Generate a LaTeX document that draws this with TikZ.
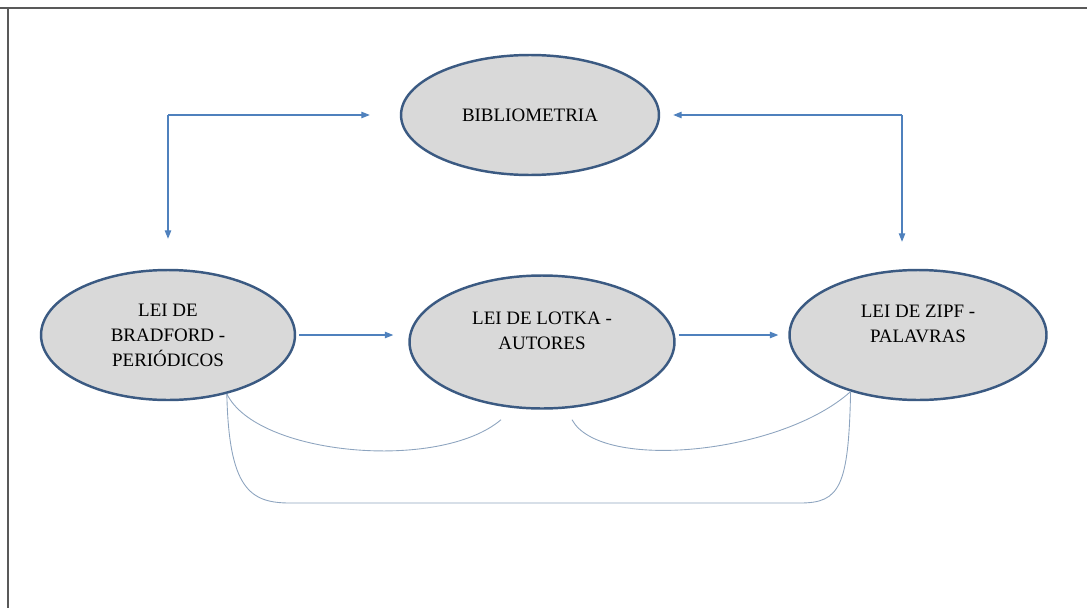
\documentclass[tikz,border=0pt]{standalone}
\usepackage{fontspec}
\setmainfont{Liberation Serif}
\usetikzlibrary{shapes.geometric, arrows.meta, positioning, calc}
\definecolor{rim}{HTML}{3B5A82}
\definecolor{shade}{HTML}{D9D9D9}
\definecolor{flow}{HTML}{4F81BD}
\definecolor{linkgray}{HTML}{8DA4BF}
\definecolor{framegray}{HTML}{595959}

\begin{document}
\begin{tikzpicture}[
        x=0.02cm, y=-0.02cm,
        lei/.style={ellipse, draw=rim, line width=1.4pt, fill=shade, align=center, inner sep=2pt, font=\fontsize{10.8}{14.2}\selectfont},
        raised/.style={text depth=0.45cm},
        arrow/.style={-{Triangle[length=0.17cm, width=0.13cm]}, draw=flow, line width=0.6pt},
        link/.style={draw=linkgray, line width=0.5pt}
    ]
        \useasboundingbox (0,0) rectangle (1087,608);
        % frame
        \draw[framegray, line width=0.8pt] (0,8) -- (1087,8) (8,8) -- (8,608);

        \node[lei, minimum width=5.16cm, minimum height=2.4cm] (biblio) at (530,115) {BIBLIOMETRIA};
        \node[lei, minimum width=5.08cm, minimum height=2.6cm] (bradford) at (168,335) {LEI DE \\ BRADFORD - \\ PERIÓDICOS};
        \node[lei, raised, minimum width=5.3cm, minimum height=2.66cm] (lotka) at (542,342) {LEI DE LOTKA - \\ AUTORES};
        \node[lei, raised, minimum width=5.14cm, minimum height=2.6cm] (zipf) at (918,335) {LEI DE ZIPF - \\ PALAVRAS};

        \coordinate (cornerL) at (bradford.north |- biblio.west);
        \coordinate (cornerR) at (902,115);
        \coordinate (baseL) at (290,503);
        \coordinate (baseR) at (800,503);

        \draw[arrow, shorten >=0.6cm] (cornerL) -- (biblio.west);
        \draw[arrow, shorten >=0.6cm] (cornerL) -- (bradford.north);
        \draw[arrow, shorten >=0.26cm] (cornerR) -- (biblio.east);
        \draw[arrow, shorten >=0.54cm] (cornerR) -- (cornerR |- zipf.north);

        \draw[arrow, shorten <=0.06cm, shorten >=0.3cm] (bradford.east) -- (bradford.east -| lotka.west);
        \draw[arrow, shorten <=0.06cm, shorten >=0.2cm] (lotka.east |- zipf.west) -- (zipf.west);

        % links below
        \draw[link] (bradford.-45) .. controls +(30,62) and +(-61,52) .. ($(lotka.south)+(-41,10)$);
        \draw[link] ($(lotka.south)+(30,10)$) .. controls +(28,52) and +(-70,63) .. (zipf.-140);
        \draw[link] (bradford.-45) .. controls +(2,95) and +(-40,0) .. (baseL) -- (baseR) .. controls +(40,0) and +(-2,95) .. (zipf.-140);
    \end{tikzpicture}
\end{document}
